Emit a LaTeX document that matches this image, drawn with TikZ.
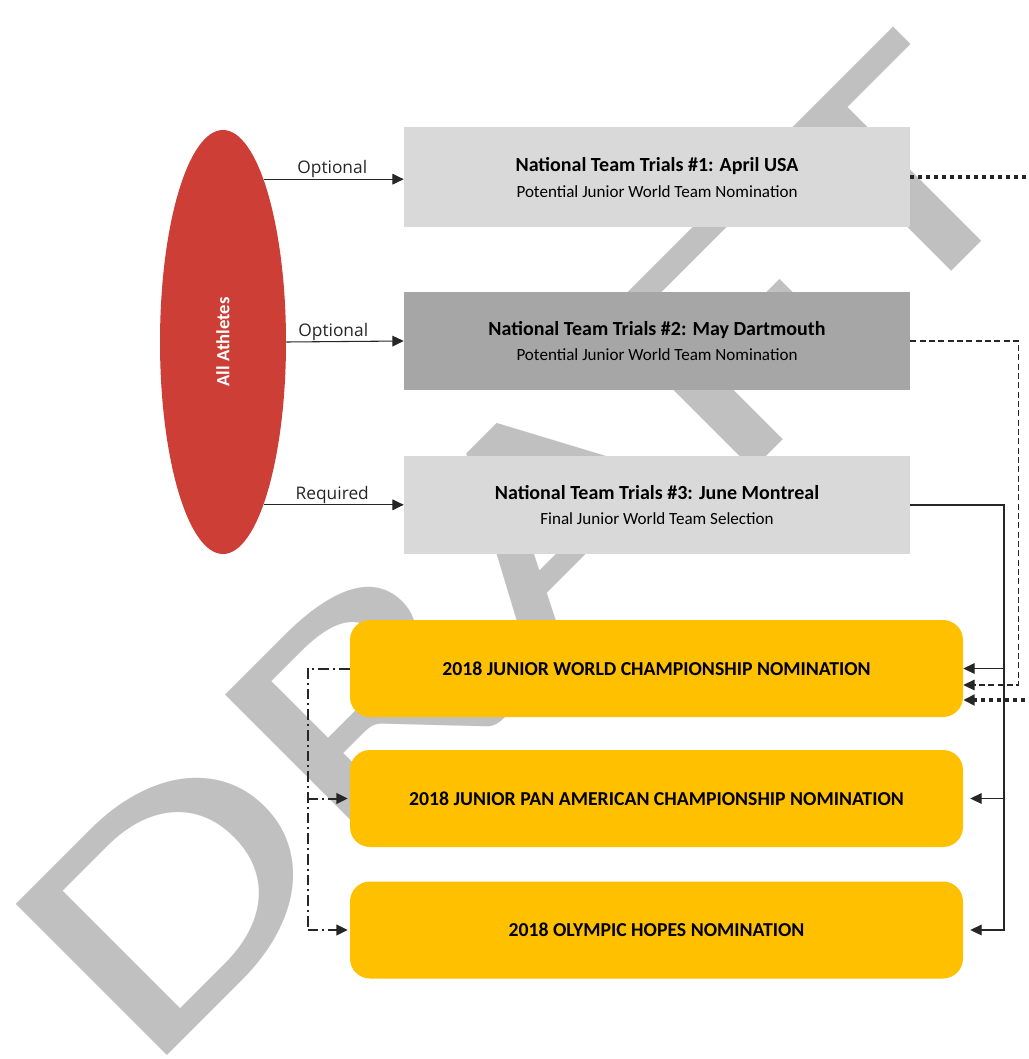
\documentclass[tikz,border=0pt]{standalone}
\usepackage{fontspec}
\setmainfont{Carlito}
\newfontfamily\labfont{Open Sans}
\usetikzlibrary{arrows.meta,shapes.geometric}
\newdimen\px \px=0.75pt
\definecolor{athred}{HTML}{CC3E36}
\definecolor{triallight}{HTML}{D9D9D9}
\definecolor{trialdark}{HTML}{A6A6A6}
\definecolor{nomgold}{HTML}{FFC000}
\definecolor{wmgray}{HTML}{C0C0C0}
\newcommand\trialtitle[1]{{\bfseries\fontsize{15}{19}\selectfont #1}}
\tikzset{
  athlete/.style={ellipse, fill=athred, text=white, minimum width=126\px, minimum height=424\px, inner sep=0pt, font=\bfseries\fontsize{14}{16}\selectfont},
  trial/.style={rectangle, minimum width=506\px, minimum height=100\px, inner sep=0pt, align=center, font=\fontsize{12.8}{19}\selectfont},
  nom/.style={rectangle, rounded corners=20\px, fill=nomgold, minimum width=613\px, minimum height=97\px, inner sep=0pt, font=\bfseries\fontsize{14.8}{17}\selectfont},
  tip/.style={-{Triangle[length=8.5pt,width=8pt]}},
  lab/.style={above, inner sep=0.5pt, font=\labfont\fontsize{13}{15}\selectfont},
  link/.style={line width=0.8pt, black!85},
}
\begin{document}
\begin{tikzpicture}[x=1\px, y=-1\px]
    \useasboundingbox (0,0) rectangle (1028,1059);
    \node[rotate=45, anchor=base, inner sep=0pt, text=wmgray, font=\fontsize{250}{250}\selectfont] (wm) at (597,626) {\scalebox{1.43}[1]{DRAFT}}; %WATERMARK
    \node[athlete] (ath) at (223,342) {\rotatebox{90}{All Athletes}};
    \node[trial, fill=triallight] (t1) at (657,177.5) {\trialtitle{National Team Trials \#1: April USA}\\Potential Junior World Team Nomination};
    \node[trial, fill=trialdark, minimum height=98\px] (t2) at (657,341) {\trialtitle{National Team Trials \#2: May Dartmouth}\\Potential Junior World Team Nomination};
    \node[trial, fill=triallight, minimum height=98\px] (t3) at (657,505) {\trialtitle{National Team Trials \#3: June Montreal}\\Final Junior World Team Selection};
    \node[nom] (nA) at (656.5,668.5) {2018 JUNIOR WORLD CHAMPIONSHIP NOMINATION};
    \node[nom] (nB) at (656.5,798.5) {2018 JUNIOR PAN AMERICAN CHAMPIONSHIP NOMINATION};
    \node[nom] (nC) at (656.5,930) {2018 OLYMPIC HOPES NOMINATION};
    \draw[link, tip] (ath.76) -- (ath.76 -| t1.west) node[lab, pos=0.49] {Optional};
    \draw[link, tip] (ath.east) -- (t2.west) node[lab, pos=0.4] {Optional};
    \draw[link, tip] (ath.-76) -- (ath.-76 -| t3.west) node[lab, pos=0.49] {Required};
    \coordinate (rj) at (1004,505);
    \draw[link, tip, shorten >=7\px] (t3.east) -- (rj) |- (nC.east);
    \draw[link, tip] (rj |- nA.east) -- (nA.east);
    \draw[link, tip, shorten >=7\px] (rj |- nB.east) -- (nB.east);
    \draw[link, tip, dash pattern=on 4.5pt off 2.5pt] (t2.east) -- ++(108,0) |- ([yshift=-16.5\px]nA.east);
    \draw[link, tip, line width=3pt, dash pattern=on 3pt off 3pt] (t1.east) -- ++(140,0) |- ([yshift=-31.5\px]nA.east);
    \draw[link, line width=1.5pt, dash pattern=on 8pt off 3pt on 1.5pt off 3pt] (nA.west) -- ++(-42,0) coordinate (lj) -- (lj |- nC.west);
    \draw[link, tip, line width=1.5pt, dash pattern=on 8pt off 3pt on 1.5pt off 3pt, shorten >=2\px] (lj |- nB.west) -- (nB.west);
    \draw[link, tip, line width=1.5pt, dash pattern=on 8pt off 3pt on 1.5pt off 3pt, shorten >=2\px] (lj |- nC.west) -- (nC.west);
\end{tikzpicture}
\end{document}
